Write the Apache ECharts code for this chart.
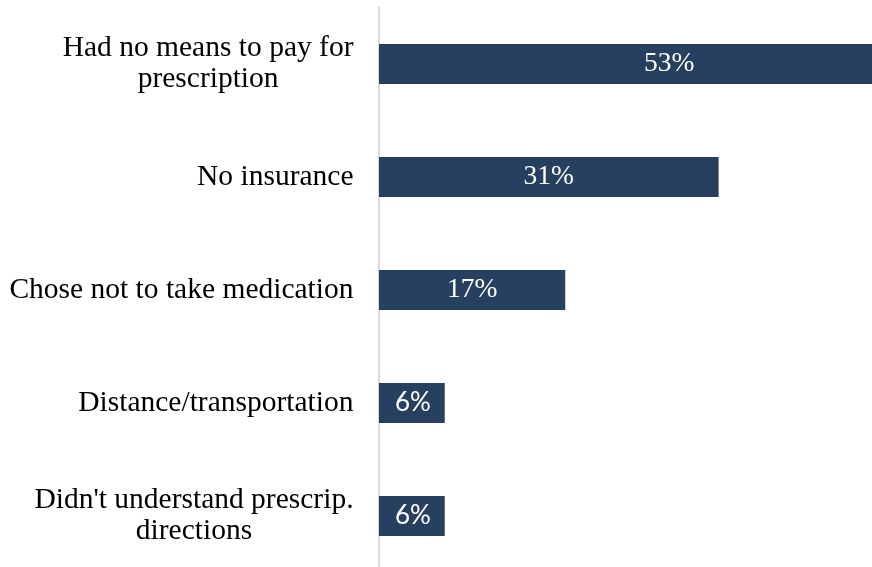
<!DOCTYPE html>
<html>
<head>
<meta charset="utf-8">
<script src="https://cdn.jsdelivr.net/npm/echarts@6/dist/echarts.min.js"></script>
<style>
  html, body { margin: 0; padding: 0; background: #ffffff; }
  #chart { width: 872px; height: 567px; }
</style>
</head>
<body>
<div id="chart"></div>
<script>
// Reasons for not filling a prescription (share of respondents, %)
const categories = [
  'Had no means to pay for\nprescription',
  'No insurance',
  'Chose not to take medication',
  'Distance/transportation',
  "Didn't understand prescrip.\ndirections"
];
const shares = [53, 31, 17, 6, 6];

// Value shown at the right edge of the plot; larger bars run off the page
const AXIS_MAX = 45;

const BAR_COLOR = '#27405f';

// Narrow bars get a compact sans-serif label
const seriesData = shares.map(function (v) {
  const item = { value: v };
  if (v < 10) {
    item.label = {
      fontFamily: 'Lato, "Open Sans", sans-serif',
      fontSize: 26,
      offset: [1, 0]
    };
  }
  return item;
});

const chart = echarts.init(document.getElementById('chart'), null, { renderer: 'canvas' });

chart.setOption({
  animation: false,
  backgroundColor: '#ffffff',
  grid: {
    left: 379,
    right: 0,
    top: 7.5,
    bottom: -5.5,
    containLabel: false,
    outerBoundsMode: 'none'
  },
  xAxis: {
    type: 'value',
    min: 0,
    max: AXIS_MAX,
    show: false
  },
  yAxis: {
    type: 'category',
    data: categories,
    inverse: true,
    offset: 1.5,
    axisLine: { show: true, lineStyle: { color: '#d9d9d9', width: 2 } },
    axisTick: { show: false },
    splitLine: { show: false },
    axisLabel: {
      margin: 24,
      align: 'right',
      color: '#000000',
      fontFamily: '"Liberation Serif", "Times New Roman", serif',
      fontSize: 29.5,
      lineHeight: 31,
      formatter: function (txt) {
        return txt.split('\n').map(function (line) { return '{c|' + line + '}'; }).join('\n');
      },
      rich: {
        c: {
          align: 'center',
          color: '#000000',
          fontFamily: '"Liberation Serif", "Times New Roman", serif',
          fontSize: 29.5,
          lineHeight: 31
        }
      }
    }
  },
  series: [{
    type: 'bar',
    data: seriesData,
    barWidth: 40,
    clip: false,
    itemStyle: { color: BAR_COLOR },
    label: {
      show: true,
      position: 'inside',
      color: '#ffffff',
      fontFamily: '"Liberation Serif", "Times New Roman", serif',
      fontSize: 27.5,
      formatter: '{c}%'
    }
  }]
});
</script>
</body>
</html>
